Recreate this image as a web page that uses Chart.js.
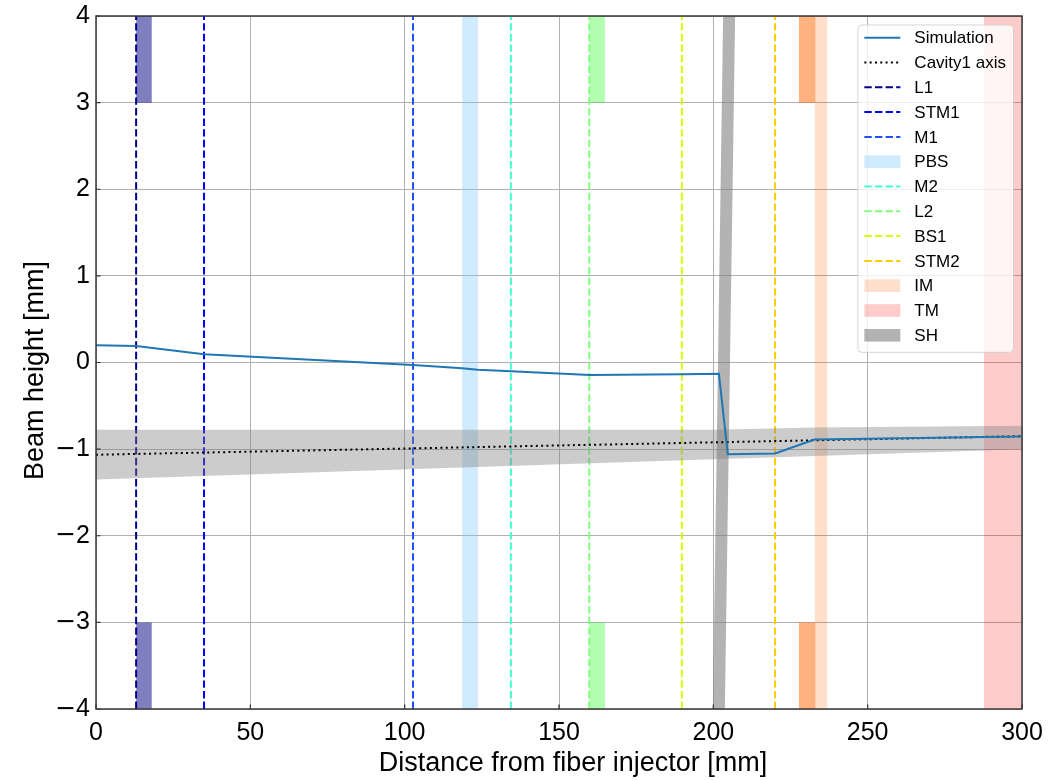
<!DOCTYPE html>
<html>
<head>
<meta charset="utf-8">
<script src="https://cdn.jsdelivr.net/npm/chart.js@4.4.1/dist/chart.umd.min.js"></script>
<style>
html, body { margin: 0; padding: 0; background: #fff; }
</style>
</head>
<body>
<canvas id="beam" width="1053" height="780"></canvas>
<script>
var FONT = '"Liberation Sans", Arial, Helvetica, sans-serif';
var MINUS_FONT = '"DejaVu Sans", sans-serif';

// simulated beam height along the bench
var simX = [0, 13, 35, 102.7, 118.6, 123.7, 134.4, 160, 190, 201.8, 204.7, 220, 232.8, 300];
var simY = [0.2, 0.19, 0.095, -0.03, -0.066, -0.085, -0.1, -0.145, -0.135, -0.13, -1.06, -1.05, -0.89, -0.855];

// cavity 1 axis + its acceptance band
var cavX = [0, 300];
var cavY = [-1.065, -0.85];
var envX = [0, 200, 233, 300];
var envTop = [-0.775, -0.775, -0.75, -0.73];
var envBottom = [-1.35, -1.117, -1.078, -1.0];

// optics drawn as dashed verticals
var lineNames = ['L1', 'STM1', 'M1', 'M2', 'L2', 'BS1', 'STM2'];
var linePos = [13, 35, 102.7, 134.4, 159.8, 189.8, 220];
var lineColors = ['#00008b', '#0000ff', '#1f50ff', '#40ffd0', '#80ff80', '#d4ff00', '#ffcc00'];

// optics drawn as full height bands
var bandNames = ['PBS', 'IM', 'TM'];
var bandFrom = [118.6, 232.8, 287.6];
var bandTo = [123.8, 237, 300];
var bandColors = ['rgba(135,206,250,0.4)', 'rgba(255,100,0,0.2)', 'rgba(255,0,0,0.2)'];

// mounts (top and bottom blocks, from |y| = 3 to 4)
var mountNames = ['L1', 'L2', 'IM'];
var mountFrom = [13, 159.8, 227.7];
var mountTo = [18.1, 164.9, 233.1];
var mountColors = ['rgba(0,0,128,0.5)', 'rgba(0,255,0,0.3)', 'rgba(255,100,0,0.5)'];

// tilted shutter
var shX = [201.7, 205.2];
var shY = [-4.2, 4.2];

var xTicks = {min: 0, max: 300, step: 50};
var yTicks = {min: -4, max: 4, step: 1};

var legendOrder = ['Simulation', 'Cavity1 axis', 'L1', 'STM1', 'M1', 'PBS', 'M2', 'L2', 'BS1', 'STM2', 'IM', 'TM', 'SH'];

function pts(xs, ys) {
    return xs.map(function (x, i) { return {x: x, y: ys[i]}; });
}

// first dataset ends up on top
var datasets = [];
datasets.push({label: 'Simulation', data: pts(simX, simY), borderColor: '#1f77b4', borderWidth: 2});
datasets.push({label: 'Cavity1 axis', data: pts(cavX, cavY), borderColor: '#000', borderWidth: 2, borderDash: [2, 3.3]});
datasets.push({label: 'envelope top', data: pts(envX, envTop), borderColor: 'transparent', borderWidth: 0,
    fill: '+1', backgroundColor: 'rgba(128,128,128,0.4)'});
datasets.push({label: 'envelope bottom', data: pts(envX, envBottom), borderColor: 'transparent', borderWidth: 0});

lineNames.forEach(function (name, i) {
    datasets.push({label: name, data: [{x: linePos[i], y: -4}, {x: linePos[i], y: 4}],
        borderColor: lineColors[i], borderWidth: 2, borderDash: [7.4, 3.2]});
});

datasets.push({label: 'SH', data: pts(shX, shY), borderColor: 'rgba(128,128,128,0.6)', borderWidth: 12,
    borderCapStyle: 'butt', legendPatch: true});

mountNames.forEach(function (name, i) {
    datasets.push({label: name + ' mount top', data: [{x: mountFrom[i], y: 4}, {x: mountTo[i], y: 4}],
        borderColor: 'transparent', borderWidth: 0, fill: {value: 3}, backgroundColor: mountColors[i]});
    datasets.push({label: name + ' mount bottom', data: [{x: mountFrom[i], y: -3}, {x: mountTo[i], y: -3}],
        borderColor: 'transparent', borderWidth: 0, fill: 'start', backgroundColor: mountColors[i]});
});

bandNames.forEach(function (name, i) {
    datasets.push({label: name, data: [{x: bandFrom[i], y: 4}, {x: bandTo[i], y: 4}],
        borderColor: 'transparent', borderWidth: 0, fill: 'start', backgroundColor: bandColors[i], legendPatch: true});
});

datasets.forEach(function (d) { d.clip = 0; d.pointRadius = 0; d.tension = 0; });

// matplotlib style inward ticks + full frame
var frame = {
    id: 'frame',
    afterDatasetsDraw: function (chart) {
        var ctx = chart.ctx, a = chart.chartArea;
        var xs = chart.scales.x, ys = chart.scales.y;
        ctx.save();
        ctx.strokeStyle = '#333';
        ctx.lineWidth = 1.2;
        ctx.beginPath();
        xs.ticks.forEach(function (t) {
            var px = xs.getPixelForValue(t.value);
            ctx.moveTo(px, a.bottom);
            ctx.lineTo(px, a.bottom - 4.5);
        });
        ys.ticks.forEach(function (t) {
            var py = ys.getPixelForValue(t.value);
            ctx.moveTo(a.left, py);
            ctx.lineTo(a.left + 4.5, py);
        });
        ctx.stroke();
        ctx.strokeStyle = '#3a3a3a';
        ctx.lineWidth = 1.5;
        ctx.strokeRect(a.left, a.top, a.right - a.left, a.bottom - a.top);
        ctx.restore();
    }
};

// y tick labels with a wide math minus, and both axis titles
var axisText = {
    id: 'axisText',
    afterDraw: function (chart) {
        var ctx = chart.ctx, a = chart.chartArea, ys = chart.scales.y;
        ctx.save();
        ctx.fillStyle = '#000';
        ctx.textBaseline = 'middle';
        ctx.textAlign = 'right';
        ys.ticks.forEach(function (t) {
            var py = ys.getPixelForValue(t.value);
            var right = a.left - 6;
            var digits = String(Math.abs(t.value));
            ctx.font = '25px ' + FONT;
            ctx.fillText(digits, right, py);
            if (t.value < 0) {
                var dw = ctx.measureText(digits).width;
                ctx.font = '25px ' + MINUS_FONT;
                ctx.fillText('\u2212', right - dw, py);
            }
        });
        ctx.font = '27px ' + FONT;
        ctx.textAlign = 'center';
        ctx.fillText('Distance from fiber injector [mm]', (a.left + a.right) / 2 + 14, 764);
        ctx.translate(36, (a.top + a.bottom) / 2 + 8);
        ctx.rotate(-Math.PI / 2);
        ctx.fillText('Beam height [mm]', 0, 0);
        ctx.restore();
    }
};

var legendBox = {
    id: 'legendBox',
    afterDraw: function (chart) {
        var ctx = chart.ctx, a = chart.chartArea;
        var rowH = 24.8, handle = 36, fontSize = 17;
        ctx.save();
        ctx.font = fontSize + 'px ' + FONT;
        var textW = 0;
        legendOrder.forEach(function (n) { textW = Math.max(textW, ctx.measureText(n).width); });
        var w = 6.5 + handle + 14 + textW + 7.5;
        var h = 12.7 + rowH * (legendOrder.length - 1) + 17;
        var x0 = a.right - 8.5 - w, y0 = a.top + 9;
        ctx.beginPath();
        ctx.roundRect(x0, y0, w, h, 4);
        ctx.fillStyle = 'rgba(255,255,255,0.8)';
        ctx.fill();
        ctx.strokeStyle = 'rgba(204,204,204,0.8)';
        ctx.lineWidth = 1;
        ctx.stroke();
        legendOrder.forEach(function (name, i) {
            var d = chart.data.datasets.find(function (ds) { return ds.label === name; });
            var cy = y0 + 12.7 + i * rowH;
            var hx = x0 + 6.5;
            if (d.legendPatch) {
                ctx.fillStyle = d.borderWidth > 0 ? d.borderColor : d.backgroundColor;
                ctx.fillRect(hx, cy - 6.3, handle, 12.6);
            } else {
                ctx.beginPath();
                ctx.setLineDash(d.borderDash || []);
                ctx.strokeStyle = d.borderColor;
                ctx.lineWidth = d.borderWidth;
                ctx.moveTo(hx, cy);
                ctx.lineTo(hx + handle, cy);
                ctx.stroke();
                ctx.setLineDash([]);
            }
            ctx.fillStyle = '#000';
            ctx.textBaseline = 'middle';
            ctx.textAlign = 'left';
            ctx.fillText(name, hx + handle + 14, cy + 1);
        });
        ctx.restore();
    }
};

var ctx = document.getElementById('beam').getContext('2d');
var beamChart = new Chart(ctx, {
    type: 'line',
    data: {datasets: datasets},
    options: {
        responsive: false,
        animation: false,
        events: [],
        layout: {padding: {left: 0, top: 16, right: 31, bottom: 0}},
        plugins: {legend: {display: false}, tooltip: {enabled: false}},
        scales: {
            x: {
                type: 'linear', min: xTicks.min, max: xTicks.max,
                ticks: {stepSize: xTicks.step, color: '#000', font: {family: FONT, size: 25}, padding: 9, maxRotation: 0},
                grid: {color: '#b0b0b0', lineWidth: 1, drawTicks: false},
                border: {display: false},
                afterFit: function (s) { s.height = 71; s.paddingLeft = 0; s.paddingRight = 0; }
            },
            y: {
                type: 'linear', min: yTicks.min, max: yTicks.max,
                ticks: {stepSize: yTicks.step, display: false},
                grid: {color: '#b0b0b0', lineWidth: 1, drawTicks: false},
                border: {display: false},
                afterFit: function (s) { s.width = 96; s.paddingTop = 0; s.paddingBottom = 0; }
            }
        }
    },
    plugins: [frame, axisText, legendBox]
});
</script>
</body>
</html>
